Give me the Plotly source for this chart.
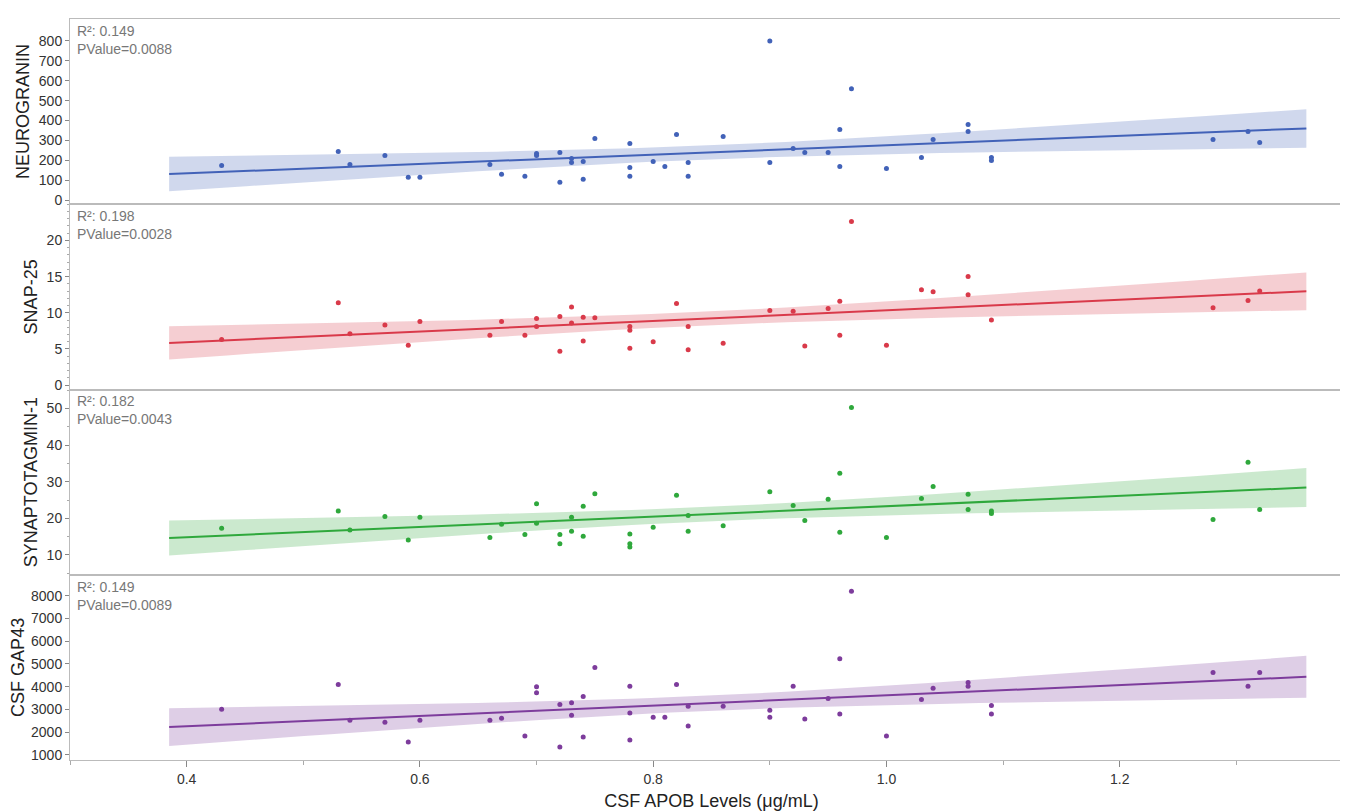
import numpy as np
import plotly.graph_objects as go
from plotly.subplots import make_subplots

neuro_x = [0.43,0.53,0.54,0.57,0.59,0.60,0.66,0.67,0.69,0.70,0.70,0.72,0.72,0.73,0.73,0.74,0.74,0.75,0.78,0.78,0.78,0.80,0.81,0.82,0.83,0.83,0.86,0.90,0.90,0.92,0.93,0.95,0.96,0.96,0.97,1.00,1.03,1.04,1.07,1.07,1.09,1.09,1.28,1.31,1.32]
neuro_y = [175,245,180,225,115,115,180,130,120,235,225,90,240,210,190,195,105,310,285,165,120,195,170,330,190,120,320,800,190,260,240,240,355,170,560,160,215,305,380,345,215,200,305,345,290]
snap_x = [0.43,0.53,0.54,0.57,0.59,0.60,0.66,0.67,0.69,0.70,0.70,0.72,0.72,0.73,0.73,0.74,0.74,0.75,0.78,0.78,0.78,0.80,0.82,0.83,0.83,0.86,0.90,0.92,0.93,0.95,0.96,0.96,0.97,1.00,1.03,1.04,1.07,1.07,1.09,1.28,1.31,1.32]
snap_y = [6.3,11.4,7.1,8.3,5.5,8.8,6.9,8.8,6.9,9.2,8.1,4.7,9.5,10.8,8.6,9.4,6.1,9.3,8.1,7.6,5.1,6.0,11.3,8.1,4.9,5.8,10.3,10.2,5.4,10.6,11.6,6.9,22.6,5.5,13.2,12.9,15.0,12.5,9.0,10.7,11.7,13.0]
syt_x = [0.43,0.53,0.54,0.57,0.59,0.60,0.66,0.67,0.69,0.70,0.70,0.72,0.72,0.73,0.73,0.74,0.74,0.75,0.78,0.78,0.78,0.80,0.82,0.83,0.83,0.86,0.90,0.92,0.93,0.95,0.96,0.96,0.97,1.00,1.03,1.04,1.07,1.07,1.09,1.09,1.28,1.31,1.32]
syt_y = [17.3,22.0,16.8,20.5,14.1,20.3,14.8,18.4,15.6,18.7,24.0,15.6,13.1,20.3,16.5,23.3,15.1,26.7,15.7,13.1,12.2,17.6,26.3,20.8,16.5,18.0,27.3,23.5,19.4,25.2,32.3,16.2,50.3,14.8,25.4,28.7,26.6,22.4,22.0,21.3,19.7,35.3,22.4]
gap_x = [0.43,0.53,0.54,0.57,0.59,0.60,0.66,0.67,0.69,0.70,0.70,0.72,0.72,0.73,0.73,0.74,0.74,0.75,0.78,0.78,0.78,0.80,0.81,0.82,0.83,0.83,0.86,0.90,0.90,0.92,0.93,0.95,0.96,0.96,0.97,1.00,1.03,1.04,1.07,1.07,1.09,1.09,1.28,1.31,1.32]
gap_y = [3010,4100,2530,2440,1570,2530,2530,2620,1830,4000,3740,3220,1350,3300,2750,3570,1790,4840,4020,2840,1660,2660,2660,4100,3140,2270,3140,2970,2660,4020,2580,3480,5230,2800,8200,1830,3440,3930,4190,4020,3180,2800,4620,4020,4620]

names = ["NEUROGRANIN", "SNAP-25", "SYNAPTOTAGMIN-1", "CSF GAP43"]
stats = [("0.149", "0.0088"), ("0.198", "0.0028"), ("0.182", "0.0043"), ("0.149", "0.0089")]
ytickvals = [list(range(0, 801, 100)), [0, 5, 10, 15, 20], [10, 20, 30, 40, 50], list(range(1000, 8001, 1000))]
xtickvals = [0.4, 0.6, 0.8, 1.0, 1.2]
colors = ["#4262b8", "#d93a4a", "#2fa83c", "#7d3c9c"]
bands = ["rgba(66,98,184,0.25)", "rgba(217,58,74,0.25)", "rgba(47,168,60,0.25)", "rgba(125,60,156,0.25)"]
yranges = [[-20, 910], [-0.6, 25], [4.6, 55.2], [780, 8920]]
yminor = [None, 1, 5, None]

fig = make_subplots(rows=4, cols=1, shared_xaxes=True, vertical_spacing=0)
data = [(neuro_x, neuro_y), (snap_x, snap_y), (syt_x, syt_y), (gap_x, gap_y)]
for i, (xs, ys) in enumerate(data):
    r = i + 1
    x = np.array(xs); y = np.array(ys)
    n = len(x)
    b, a = np.polyfit(x, y, 1)
    res = y - (a + b * x)
    s = np.sqrt((res ** 2).sum() / (n - 2))
    xm = x.mean(); sxx = ((x - xm) ** 2).sum()
    xl = np.linspace(0.385, 1.36, 60)
    yl = a + b * xl
    se = s * np.sqrt(1 / n + (xl - xm) ** 2 / sxx)
    t = 2.02
    fig.add_trace(go.Scatter(x=np.concatenate([xl, xl[::-1]]), y=np.concatenate([yl + t * se, (yl - t * se)[::-1]]),
                             fill="toself", fillcolor=bands[i], line=dict(width=0), hoverinfo="skip", showlegend=False), row=r, col=1)
    fig.add_trace(go.Scatter(x=xl, y=yl, mode="lines", line=dict(color=colors[i], width=2), showlegend=False), row=r, col=1)
    fig.add_trace(go.Scatter(x=x, y=y, mode="markers", marker=dict(color=colors[i], size=5), showlegend=False), row=r, col=1)
    ya = dict(range=yranges[i], tickmode="array", tickvals=ytickvals[i], ticks="outside", ticklen=4, tickcolor="#888",
              showgrid=False, zeroline=False, showline=True, linecolor="#bbb", mirror=True,
              title=dict(text=names[i], font=dict(size=18, color="#222"), standoff=4),
              tickfont=dict(size=14, color="#333"))
    if yminor[i]:
        ya["minor"] = dict(dtick=yminor[i], ticks="outside", ticklen=2, tickcolor="#aaa")
    fig.update_yaxes(**ya, row=r, col=1)
    fig.update_xaxes(range=[0.3, 1.4], showgrid=False, zeroline=False, showline=True, linecolor="#bbb", mirror=True,
                     row=r, col=1)
    yref = "y domain" if r == 1 else f"y{r} domain"
    fig.add_annotation(x=0.004, y=0.99, xref="x domain" if r == 1 else f"x{r} domain", yref=yref,
                       text=f"R²: {stats[i][0]}<br>PValue={stats[i][1]}", showarrow=False,
                       xanchor="left", yanchor="top", align="left", font=dict(size=14, color="#777"))

fig.update_xaxes(tickmode="array", tickvals=xtickvals, tickformat=".1f", ticks="outside", ticklen=6, tickcolor="#888",
                 minor=dict(tickvals=[0.3, 0.5, 0.7, 0.9, 1.1, 1.3], ticks="outside", ticklen=4, tickcolor="#aaa"),
                 tickfont=dict(size=14, color="#333"),
                 title=dict(text="CSF APOB Levels (μg/mL)", font=dict(size=18, color="#222"), standoff=8), row=4, col=1)
fig.update_layout(width=1348, height=811, margin=dict(l=62, r=3, t=11, b=59),
                  plot_bgcolor="white", paper_bgcolor="white",
                  font=dict(family="Liberation Sans, Arial, sans-serif"))
fig.write_html("out.html")
